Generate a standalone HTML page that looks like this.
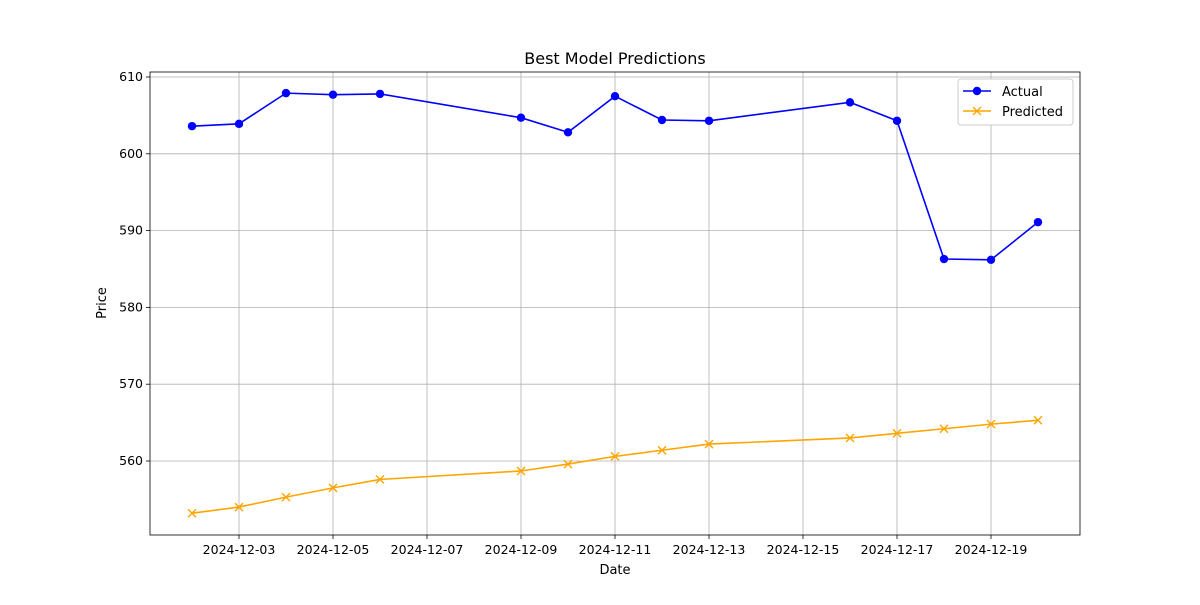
<!DOCTYPE html>
<html><head><meta charset="utf-8"><style>
body{margin:0;background:#fff;font-family:"Liberation Sans","DejaVu Sans",sans-serif;}
</style></head><body>
<svg id="chart" width="1200" height="600" xmlns="http://www.w3.org/2000/svg" font-family="DejaVu Sans, Liberation Sans, sans-serif"></svg>
<script>
const dates=["2024-12-02","2024-12-03","2024-12-04","2024-12-05","2024-12-06","2024-12-09","2024-12-10","2024-12-11","2024-12-12","2024-12-13","2024-12-16","2024-12-17","2024-12-18","2024-12-19","2024-12-20"];
const actual=[603.6,603.9,607.9,607.7,607.8,604.7,602.8,607.5,604.4,604.3,606.7,604.3,586.3,586.2,591.1];
const predicted=[553.2,554.0,555.3,556.5,557.6,558.7,559.6,560.6,561.4,562.2,563.0,563.6,564.2,564.8,565.3];
const yTicks=[560,570,580,590,600,610];
const xTicks=["2024-12-03","2024-12-05","2024-12-07","2024-12-09","2024-12-11","2024-12-13","2024-12-15","2024-12-17","2024-12-19"];

const NS="http://www.w3.org/2000/svg";
const svg=document.getElementById('chart');
const L=150,R=1080,T=72,B=535;
const day0=Date.parse("2024-12-02");
function dayOf(d){return (Date.parse(d)-day0)/86400000;}
function xs(d){return 192+dayOf(d)*47;}
function ys(v){return 77+(610-v)*7.68;}
function mk(tag,attrs,parent){const e=document.createElementNS(NS,tag);for(const k in attrs)e.setAttribute(k,attrs[k]);(parent||svg).appendChild(e);return e;}

const grid=mk('g',{});


yTicks.forEach(v=>{
  const y=ys(v);
  mk('line',{x1:L,x2:R,y1:y,y2:y,stroke:'#b0b0b0','stroke-width':0.8},grid);
  mk('line',{x1:L-4,x2:L,y1:y,y2:y,stroke:'#000','stroke-width':0.8});
  const t=mk('text',{x:L-7,y:y+4,'text-anchor':'end','font-size':12.5});
  t.textContent=v;
  
  
});
xTicks.forEach(d=>{
  const x=xs(d);
  mk('line',{x1:x,x2:x,y1:T,y2:B,stroke:'#b0b0b0','stroke-width':0.8},grid);
  mk('line',{x1:x,x2:x,y1:B,y2:B+4,stroke:'#000','stroke-width':0.8});
  const t=mk('text',{x:x,y:B+19,'text-anchor':'middle','font-size':12.5});
  t.textContent=d;
  
  
});

function series(vals,color,marker,name){
  const g=mk('g',{});
  
  
  const pts=vals.map((v,i)=>xs(dates[i])+','+ys(v)).join(' ');
  mk('polyline',{points:pts,fill:'none',stroke:color,'stroke-width':1.6},g);
  vals.forEach((v,i)=>{
    const x=xs(dates[i]),y=ys(v);
    let m;
    if(marker==='o'){m=mk('circle',{cx:x,cy:y,r:4.2,fill:color},g);}
    else{m=mk('path',{d:`M${x-4},${y-4}L${x+4},${y+4}M${x-4},${y+4}L${x+4},${y-4}`,stroke:color,'stroke-width':1.4},g);}
    
    
  });
}
series(actual,'#0000ff','o','actual-series');
series(predicted,'#ffa500','x','predicted-series');

const frame=mk('rect',{x:L,y:T,width:R-L,height:B-T,fill:'none',stroke:'#000','stroke-width':0.8});



const title=mk('text',{x:(L+R)/2,y:64,'text-anchor':'middle','font-size':16});
title.textContent='Best Model Predictions';


const xl=mk('text',{x:(L+R)/2,y:574,'text-anchor':'middle','font-size':13});
xl.textContent='Date';


const yl=mk('text',{x:106,y:303,'text-anchor':'middle','font-size':13,transform:'rotate(-90 106 303)'});
yl.textContent='Price';



const lg=mk('g',{});


mk('rect',{x:958,y:79,width:115,height:46,rx:3,fill:'#fff',stroke:'#ccc','stroke-width':1},lg);
const e1=mk('g',{},lg);


mk('line',{x1:963,x2:991,y1:91,y2:91,stroke:'#0000ff','stroke-width':1.6},e1);
mk('circle',{cx:977,cy:91,r:4.2,fill:'#0000ff'},e1);
const t1=mk('text',{x:1002,y:96,'font-size':13},e1);t1.textContent='Actual';
const e2=mk('g',{},lg);


mk('line',{x1:963,x2:991,y1:111,y2:111,stroke:'#ffa500','stroke-width':1.6},e2);
mk('path',{d:'M973,107L981,115M973,115L981,107',stroke:'#ffa500','stroke-width':1.4},e2);
const t2=mk('text',{x:1002,y:116,'font-size':13},e2);t2.textContent='Predicted';
</script>
</body></html>
